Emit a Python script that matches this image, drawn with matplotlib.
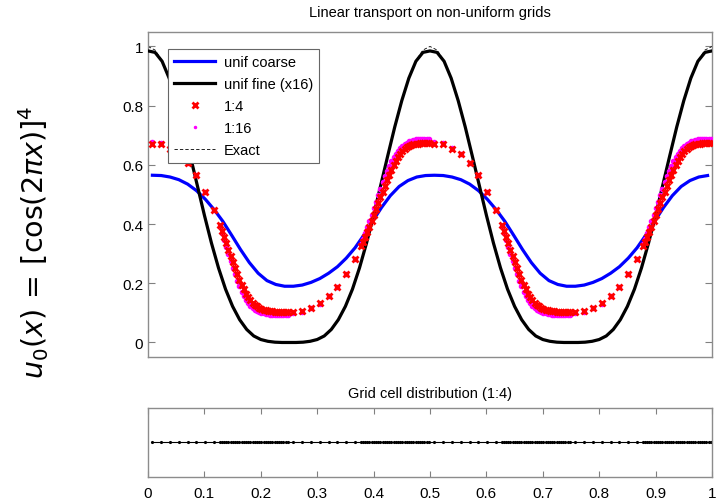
import numpy as np
import matplotlib.pyplot as plt

plt.rcParams['font.family'] = ['Liberation Sans', 'DejaVu Sans']
plt.rcParams['mathtext.fontset'] = 'dejavusans'

# ---- data (one half period, the solution repeats on [0.5, 1]) ----
# exact solution and uniform fine run, sampled every 0.0125 on [0, 0.5]
exact_half = [1.000, 0.988, 0.952, 0.894, 0.818, 0.729, 0.630, 0.529, 0.428, 0.334,
              0.250, 0.178, 0.119, 0.075, 0.042, 0.021, 0.009, 0.003, 0.001, 0.000,
              0.000, 0.000, 0.001, 0.003, 0.009, 0.021, 0.042, 0.075, 0.119, 0.178,
              0.250, 0.334, 0.428, 0.529, 0.630, 0.729, 0.818, 0.894, 0.952, 0.988]
fine_half = [0.985, 0.980, 0.950, 0.893, 0.817, 0.728, 0.630, 0.530, 0.430, 0.336,
             0.252, 0.180, 0.122, 0.077, 0.044, 0.022, 0.010, 0.004, 0.001, 0.000,
             0.000, 0.000, 0.001, 0.004, 0.010, 0.022, 0.044, 0.077, 0.122, 0.180,
             0.252, 0.336, 0.430, 0.530, 0.630, 0.728, 0.817, 0.893, 0.950, 0.980]

# uniform coarse run, 32 cells per half period (cell centres)
coarse_half = [0.565, 0.564, 0.559, 0.550, 0.535, 0.513, 0.484, 0.449,
               0.409, 0.362, 0.314, 0.270, 0.234, 0.209, 0.196, 0.190,
               0.190, 0.194, 0.203, 0.216, 0.234, 0.256, 0.285, 0.320,
               0.363, 0.410, 0.456, 0.496, 0.527, 0.547, 0.559, 0.564]

# non-uniform grid: coarse / fine blocks
region_edges = [0, 0.125, 0.25, 0.375, 0.5, 0.625, 0.75, 0.875, 1.0]
cells_per_region = [8, 32, 8, 32, 8, 32, 8, 32]

# 1:4 run
r4_coarse_down = [0.672, 0.669, 0.655, 0.637, 0.607, 0.566, 0.510, 0.447]
r4_fine_down = [0.398, 0.377, 0.356, 0.335, 0.313, 0.292, 0.271, 0.250,
                0.230, 0.211, 0.194, 0.179, 0.165, 0.153, 0.143, 0.135,
                0.128, 0.122, 0.118, 0.114, 0.111, 0.109, 0.107, 0.106,
                0.105, 0.104, 0.104, 0.103, 0.103, 0.103, 0.103, 0.103]
r4_coarse_up = [0.104, 0.107, 0.118, 0.133, 0.158, 0.189, 0.233, 0.283]
r4_fine_up = [0.326, 0.340, 0.356, 0.373, 0.391, 0.410, 0.430, 0.450,
              0.470, 0.490, 0.510, 0.530, 0.549, 0.567, 0.584, 0.600,
              0.614, 0.626, 0.637, 0.646, 0.653, 0.659, 0.663, 0.666,
              0.669, 0.671, 0.672, 0.673, 0.674, 0.674, 0.674, 0.674]

# 1:16 run
r16_coarse_down = [0.677, 0.673, 0.657, 0.638, 0.607, 0.565, 0.510, 0.447]
r16_fine_down = [0.394, 0.370, 0.346, 0.322, 0.298, 0.275, 0.252, 0.230,
                 0.209, 0.190, 0.172, 0.157, 0.144, 0.133, 0.124, 0.117,
                 0.111, 0.106, 0.103, 0.100, 0.098, 0.096, 0.095, 0.094,
                 0.094, 0.093, 0.093, 0.093, 0.093, 0.093, 0.093, 0.093]
r16_coarse_up = [0.099, 0.104, 0.116, 0.131, 0.156, 0.188, 0.232, 0.282]
r16_fine_up = [0.332, 0.350, 0.369, 0.389, 0.410, 0.432, 0.454, 0.476,
               0.498, 0.520, 0.541, 0.561, 0.580, 0.597, 0.612, 0.626,
               0.638, 0.648, 0.657, 0.664, 0.670, 0.675, 0.679, 0.682,
               0.684, 0.686, 0.687, 0.688, 0.688, 0.688, 0.688, 0.688]

y_ticks = [0, 0.2, 0.4, 0.6, 0.8, 1]
x_ticks = [0, 0.1, 0.2, 0.3, 0.4, 0.5, 0.6, 0.7, 0.8, 0.9, 1]

# ---- build series ----
exact_y = exact_half * 2 + [exact_half[0]]
fine_y = fine_half * 2 + [fine_half[0]]
sample_x = np.linspace(0, 1, len(exact_y))

coarse_y = coarse_half * 2
coarse_x = (np.arange(len(coarse_y)) + 0.5) / len(coarse_y)

grid_x = []
for a, b, n in zip(region_edges[:-1], region_edges[1:], cells_per_region):
    h = (b - a) / n
    grid_x.extend(a + h * (np.arange(n) + 0.5))
grid_x = np.array(grid_x)

r4_y = (r4_coarse_down + r4_fine_down + r4_coarse_up + r4_fine_up) * 2
r16_y = (r16_coarse_down + r16_fine_down + r16_coarse_up + r16_fine_up) * 2

# ---- figure ----
fig = plt.figure(figsize=(7.16, 5.02), dpi=100)
ax = fig.add_axes([0.2067, 0.2863, 0.7877, 0.6486])
ax2 = fig.add_axes([0.2067, 0.0484, 0.7877, 0.1363])

ax.plot(coarse_x, coarse_y, color='#0000ff', lw=2.3, label='unif coarse', zorder=3)
ax.plot(sample_x, fine_y, color='black', lw=2.3, label='unif fine (x16)', zorder=3)
ax.plot(grid_x, r16_y, ls='none', marker='.', ms=6, color='#ff00ff',
        label='1:16', zorder=4)
ax.plot(grid_x, r4_y, ls='none', marker='x', ms=4.5, mew=2, color='#ff0000',
        label='1:4', zorder=5)
ax.plot(sample_x, exact_y, color='black', lw=0.6, ls=(0, (4, 2.5)), label='Exact',
        zorder=2)

h, l = ax.get_legend_handles_labels()
order = [0, 1, 3, 2, 4]
leg = ax.legend([h[i] for i in order], [l[i] for i in order], loc='upper left',
                bbox_to_anchor=(0.036, 0.947), borderaxespad=0, fancybox=False,
                framealpha=1, edgecolor='0.4', fontsize=10.5, handlelength=2.8,
                labelspacing=0.55, borderpad=0.4, handletextpad=0.6)
leg.get_frame().set_linewidth(0.8)
leg.legend_handles[3].set_markersize(3)

ax.set_xlim(0, 1)
ax.set_ylim(-0.05, 1.05)
ax.set_xticks([])
ax.set_yticks(y_ticks)
ax.set_yticklabels([f'{t:g}' for t in y_ticks])
ax.tick_params(axis='y', direction='in', length=5, right=True, color='0.5',
               labelsize=11)
ax.set_title('Linear transport on non-uniform grids', fontsize=10.5, pad=11)

ax2.plot(grid_x, np.zeros_like(grid_x), color='black', lw=0.8, marker='.', ms=2.5)
ax2.set_xlim(0, 1)
ax2.set_ylim(-1, 1)
ax2.set_yticks([])
ax2.set_xticks(x_ticks)
ax2.set_xticklabels([f'{t:g}' for t in x_ticks])
ax2.tick_params(axis='x', direction='in', length=4, top=True, color='0.5',
                labelsize=11, pad=7)
ax2.set_title('Grid cell distribution (1:4)', fontsize=10.5, pad=8)

for a in (ax, ax2):
    for s in a.spines.values():
        s.set_color('0.55')
        s.set_linewidth(1.0)

fig.text(0.047, 0.518, r'$u_0(x)\,=\,[\cos(2\pi x)]^4$', rotation=90,
         ha='center', va='center', fontsize=20.5)

fig.savefig('out.png', dpi=100)
